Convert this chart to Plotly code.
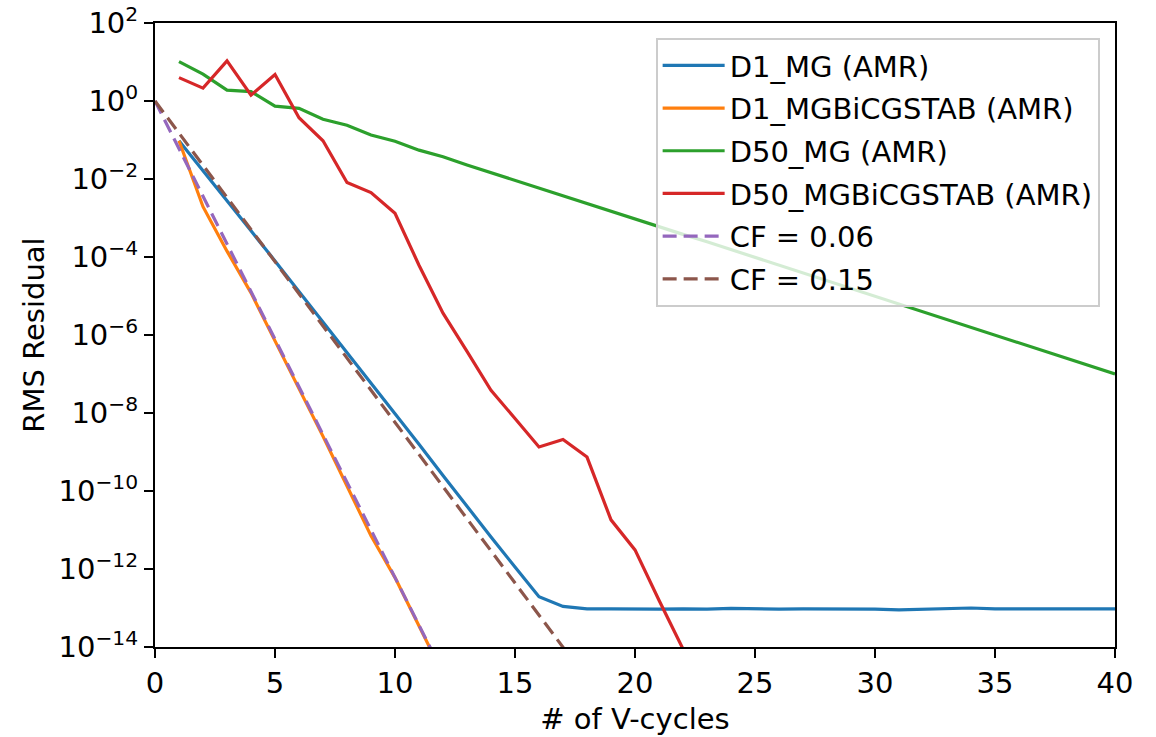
import plotly.graph_objects as go

# V-cycle index for each solver run
cycles_d1_mg = list(range(1, 41))
cycles_d1_bicg = list(range(1, 13))
cycles_d50_mg = list(range(1, 41))
cycles_d50_bicg = list(range(1, 23))

# log10 of the RMS residual after each V-cycle
d1_mg_log10 = [-1.02, -1.78, -2.55, -3.33, -4.10, -4.88, -5.66, -6.44, -7.22, -8.02,
               -8.80, -9.60, -10.40, -11.18, -11.95, -12.71, -12.96, -13.02, -13.02, -13.03,
               -13.03, -13.02, -13.03, -13.01, -13.03, -13.03, -13.02, -13.02, -13.02, -13.03,
               -13.05, -13.03, -13.02, -13.00, -13.02, -13.03, -13.02, -13.02, -13.02, -13.02]
d1_bicg_log10 = [-1.02, -2.71, -3.85, -4.92, -6.15, -7.36, -8.60, -9.87, -11.15, -12.22,
                 -13.48, -14.70]
d50_mg_log10 = [1.01, 0.69, 0.28, 0.24, -0.13, -0.19, -0.47, -0.62, -0.87, -1.03,
                -1.26, -1.43, -1.64, -1.84, -2.03, -2.23, -2.42, -2.62, -2.82, -3.02,
                -3.22, -3.42, -3.61, -3.81, -4.01, -4.21, -4.41, -4.60, -4.80, -5.00,
                -5.20, -5.40, -5.60, -5.80, -6.00, -6.20, -6.40, -6.60, -6.80, -7.00]
d50_bicg_log10 = [0.60, 0.33, 1.03, 0.15, 0.68, -0.43, -1.02, -2.09, -2.35, -2.88,
                  -4.21, -5.44, -6.42, -7.42, -8.14, -8.87, -8.68, -9.13, -10.74, -11.51,
                  -12.80, -14.05]

# reference convergence factors
cf_values = [0.06, 0.15]
cf_cycles = list(range(0, 21))

series = [
    ("D1_MG (AMR)", cycles_d1_mg, d1_mg_log10, "#1f77b4"),
    ("D1_MGBiCGSTAB (AMR)", cycles_d1_bicg, d1_bicg_log10, "#ff7f0e"),
    ("D50_MG (AMR)", cycles_d50_mg, d50_mg_log10, "#2ca02c"),
    ("D50_MGBiCGSTAB (AMR)", cycles_d50_bicg, d50_bicg_log10, "#d62728"),
]
cf_colors = ["#9467bd", "#8c564b"]

FONT = "DejaVu Sans"
FS = 29

fig = go.Figure()
for i, (name, xs, logs, color) in enumerate(series):
    fig.add_trace(go.Scatter(
        x=xs, y=[10 ** v for v in logs], mode="lines", name=name,
        line=dict(color=color, width=3.2), legendgroup=f"g{i}",
    ))
for j, (cf, color) in enumerate(zip(cf_values, cf_colors)):
    fig.add_trace(go.Scatter(
        x=cf_cycles, y=[cf ** n for n in cf_cycles], mode="lines",
        name=f"CF = {cf}", line=dict(color=color, width=3.2, dash="14px,7px"),
        legendgroup=f"c{j}",
    ))

ytick_exp = [-14, -12, -10, -8, -6, -4, -2, 0, 2]
ytick_vals = [10.0 ** e for e in ytick_exp]
ytick_text = [f"10<sup>{str(e).replace('-', '−')}</sup>" for e in ytick_exp]

axis_common = dict(
    showline=True, linecolor="black", linewidth=2, mirror=True,
    ticks="outside", ticklen=9, tickwidth=2, tickcolor="black",
    showgrid=False, zeroline=False, automargin=False,
    tickfont=dict(family=FONT, size=FS, color="black"),
)

fig.update_layout(
    width=1156, height=737,
    margin=dict(l=155, r=41, t=23, b=90),
    paper_bgcolor="white", plot_bgcolor="white",
    font=dict(family=FONT, size=FS, color="black"),
    xaxis=dict(range=[0, 40], tickvals=[0, 5, 10, 15, 20, 25, 30, 35, 40],
               title=dict(text="# of V-cycles", font=dict(family=FONT, size=FS), standoff=10),
               **axis_common),
    yaxis=dict(type="log", range=[-14, 2], tickvals=ytick_vals, ticktext=ytick_text,
               title=dict(text="RMS Residual", font=dict(family=FONT, size=FS), standoff=5),
               **axis_common),
    legend=dict(
        x=0.984, y=0.976, xanchor="right", yanchor="top",
        bgcolor="rgba(255,255,255,0.8)", bordercolor="#cccccc", borderwidth=2,
        font=dict(family=FONT, size=FS, color="black"),
        tracegroupgap=2, itemwidth=62,
    ),
    showlegend=True,
)

fig.write_html("out.html")
